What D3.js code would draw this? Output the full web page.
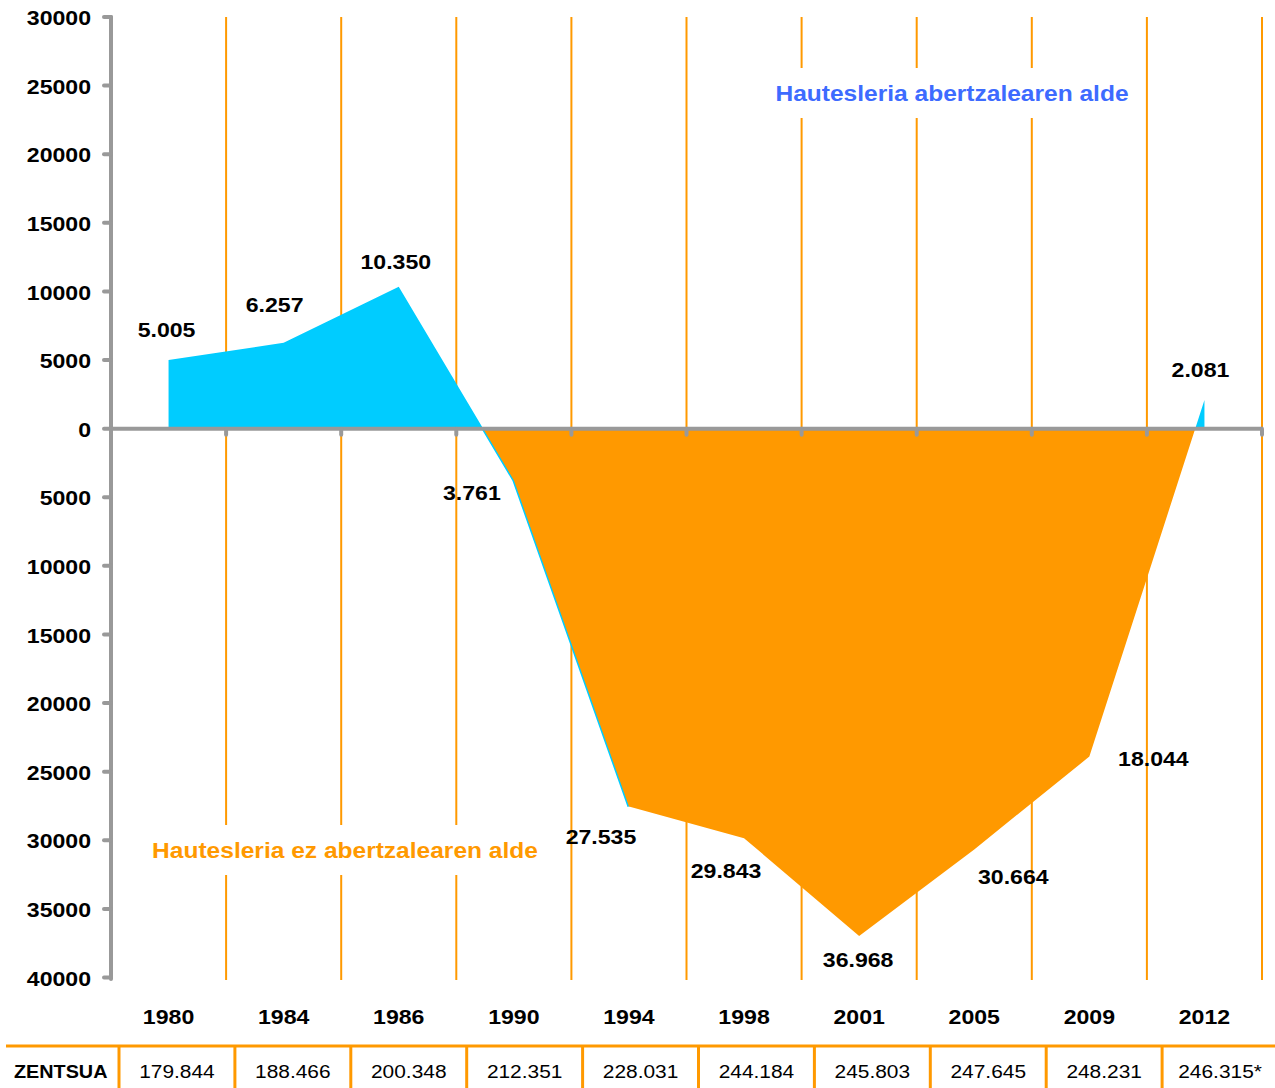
<!DOCTYPE html>
<html><head><meta charset="utf-8">
<script src="https://cdn.jsdelivr.net/npm/d3@7"></script>
<style>body{margin:0;background:#fff}svg{display:block}text{font-family:"Liberation Sans",Arial,sans-serif}</style>
</head><body>
<script>
const years = ['1980','1984','1986','1990','1994','1998','2001','2005','2009','2012'];
const values = [5005, 6257, 10350, -3761, -27535, -29843, -36968, -30664, -23900, 2081];
const valueLabels = ['5.005','6.257','10.350','3.761','27.535','29.843','36.968','30.664','18.044','2.081'];
const census = ['179.844','188.466','200.348','212.351','228.031','244.184','245.803','247.645','248.231','246.315*'];
const yTicks = [30000,25000,20000,15000,10000,5000,0,-5000,-10000,-15000,-20000,-25000,-30000,-35000,-40000];
const censusTitle = 'ZENTSUA';
const upperTitle = 'Hautesleria abertzalearen alde';
const lowerTitle = 'Hautesleria ez abertzalearen alde';

const W = 1275, H = 1088;
const BLUE = '#00CCFF', ORANGE = '#FF9900', GRAY = '#999999';
const svg = d3.select('body').append('svg').attr('width', W).attr('height', H);

const x = d3.scaleBand().domain(years).range([111, 1262]).padding(0);
const y = d3.scaleLinear().domain([-40000, 30000]).range([977.5, 17]);
const xt = d3.scaleBand().domain(years).range([119, 1278]).padding(0);
const cx = d => x(d) + x.bandwidth() / 2;
const SX = 1.1; // horizontal stretch of the reference's text

function txt(g, px, py, s, opts) {
  const t = g.append('text')
    .attr('transform', `translate(${px},${py}) scale(${SX},1)`)
    .attr('text-anchor', opts.anchor || 'middle')
    .attr('dominant-baseline', 'central')
    .attr('font-size', opts.size || 21)
    .attr('font-weight', opts.weight || 'bold')
    .attr('fill', opts.fill || '#000')
    .text(s);
  return t;
}

// gridlines
const grid = svg.append('g');
years.forEach(yr => {
  grid.append('line').attr('x1', x(yr) + x.bandwidth()).attr('x2', x(yr) + x.bandwidth())
    .attr('y1', y(30000)).attr('y2', 980).attr('stroke', ORANGE).attr('stroke-width', 2);
});

// areas
const pts = years.map((yr, i) => ({yr, v: values[i]}));
const area = d3.area().x(d => cx(d.yr)).y0(y(0)).y1(d => y(d.v));
const defs = svg.append('defs');
defs.append('clipPath').attr('id', 'clipUp').append('rect')
  .attr('x', 0).attr('y', 0).attr('width', W).attr('height', y(0));
defs.append('clipPath').attr('id', 'clipDown').append('rect')
  .attr('x', 0).attr('y', y(0)).attr('width', W).attr('height', H - y(0));

// thin blue edge along the descent 1986 -> 1994 (under the orange)
const edge = pts.slice(2, 5);
svg.append('path').attr('clip-path', 'url(#clipDown)')
  .attr('d', d3.line().x(d => cx(d.yr)).y(d => y(d.v))(edge))
  .attr('fill', 'none').attr('stroke', BLUE).attr('stroke-width', 3);

svg.append('path').attr('d', area(pts)).attr('fill', BLUE).attr('clip-path', 'url(#clipUp)');
svg.append('path').attr('d', area(pts)).attr('fill', ORANGE).attr('clip-path', 'url(#clipDown)');

// y axis
const ax = svg.append('g').attr('stroke', GRAY).attr('stroke-linecap', 'round');
ax.append('line').attr('x1', 111).attr('x2', 111).attr('y1', y(30000)).attr('y2', 979).attr('stroke-width', 4);
yTicks.forEach(t => {
  ax.append('line').attr('x1', 104).attr('x2', 111).attr('y1', y(t)).attr('y2', y(t)).attr('stroke-width', 4);
});
// x axis at zero
ax.append('line').attr('x1', 111).attr('x2', 1263).attr('y1', y(0)).attr('y2', y(0)).attr('stroke-width', 4).attr('stroke-linecap', 'butt');
years.forEach(yr => {
  const bx = x(yr) + x.bandwidth();
  ax.append('line').attr('x1', bx).attr('x2', bx).attr('y1', y(0)).attr('y2', y(0) + 6).attr('stroke-width', 4);
});

const tg = svg.append('g');
yTicks.forEach(t => txt(tg, 91, y(t) + 1, String(Math.abs(t)), {anchor: 'end'}));

// data labels
const nudge = [[-2,-30],[-9,-38],[-3,-25],[-42,13],[-28,30],[-18,33],[-1,24],[39,27],[64,2],[-4,-30]];
pts.forEach((d, i) => txt(tg, cx(d.yr) + nudge[i][0], y(d.v) + nudge[i][1], valueLabels[i], {}));

// series titles with white backing
function title(s, px, py, fill) {
  const t = txt(tg, px, py, s, {fill, size: 22.3});
  const bb = t.node().getBBox();
  const w = bb.width * SX;
  tg.insert('rect', () => t.node()).attr('x', px - w / 2 - 8).attr('y', py - 25).attr('width', w + 16).attr('height', 50).attr('fill', '#fff');
}
title(upperTitle, 952, 93, '#3D6BFF');
title(lowerTitle, 345, 850, ORANGE);

// year labels
years.forEach(yr => txt(tg, cx(yr), 1017, yr, {}));

// census table
const tb = svg.append('g');
tb.append('line').attr('x1', 6).attr('x2', W).attr('y1', 1046).attr('y2', 1046).attr('stroke', ORANGE).attr('stroke-width', 3);
years.forEach((yr, i) => {
  tb.append('line').attr('x1', xt(yr)).attr('x2', xt(yr)).attr('y1', 1046).attr('y2', H).attr('stroke', ORANGE).attr('stroke-width', 3);
  txt(tb, xt(yr) + xt.bandwidth() / 2, 1071, census[i], {weight: 'normal', size: 19});
});
txt(tb, 14, 1072, censusTitle, {anchor: 'start', size: 18});
</script>
</body></html>
